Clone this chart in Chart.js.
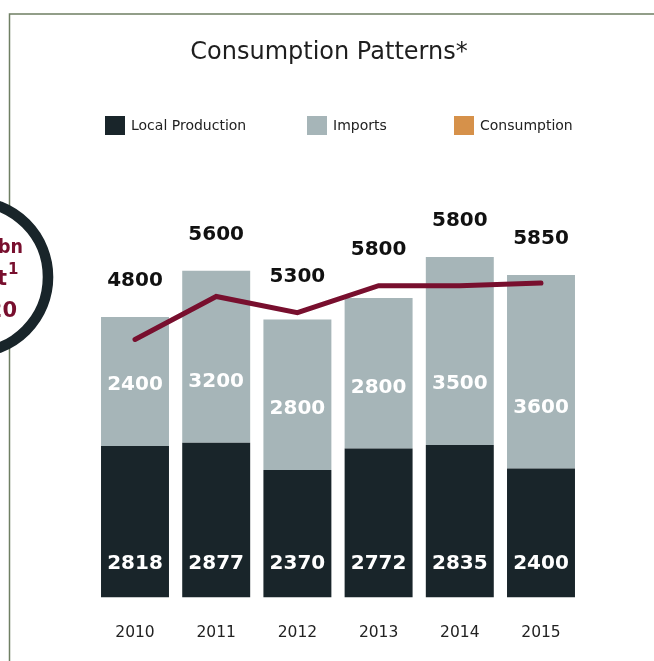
<!DOCTYPE html>
<html>
<head>
<meta charset="utf-8">
<title>Consumption Patterns</title>
<script src="https://cdn.jsdelivr.net/npm/chart.js@4.4.1/dist/chart.umd.min.js"></script>
<style>
  html, body { margin: 0; padding: 0; background: #fff; }
  #wrap { width: 654px; height: 661px; }
</style>
</head>
<body>
<div id="wrap"><canvas id="consumptionChart" width="654" height="661"></canvas></div>
<script>
const years = ["2010", "2011", "2012", "2013", "2014", "2015"];
const localProduction = [2818, 2877, 2370, 2772, 2835, 2400];
const imports = [2400, 3200, 2800, 2800, 3500, 3600];
const consumption = [4800, 5600, 5300, 5800, 5800, 5850];
const seriesNames = ["Local Production", "Imports", "Consumption"];

const darkColor = "#19252a";
const greyColor = "#a6b5b8";
const lineColor = "#780f2e";
const legendColors = [darkColor, greyColor, "#d6914a"];
const fontFamily = "'DejaVu Sans', Verdana, sans-serif";

// thin frame + the cut-off badge on the left edge
const frameDecor = {
    id: "frameDecor",
    beforeDraw(chart) {
        const ctx = chart.ctx;
        ctx.save();
        ctx.strokeStyle = "#6f7f63";
        ctx.lineWidth = 1.5;
        ctx.beginPath();
        ctx.moveTo(9.5, chart.height);
        ctx.lineTo(9.5, 14);
        ctx.lineTo(chart.width, 14);
        ctx.stroke();

        ctx.beginPath();
        ctx.arc(-27.5, 277, 75.5, 0, Math.PI * 2);
        ctx.fillStyle = "#fff";
        ctx.fill();
        ctx.lineWidth = 10.6;
        ctx.strokeStyle = darkColor;
        ctx.stroke();

        ctx.fillStyle = lineColor;
        ctx.font = "bold 20px " + fontFamily;
        ctx.textAlign = "left";
        ctx.textBaseline = "alphabetic";
        ctx.fillText("bn", -2, 253, 25);
        ctx.font = "bold 21px " + fontFamily;
        ctx.textAlign = "right";
        ctx.fillText("t", 7, 285);
        ctx.fillText("20", 17, 317);
        ctx.font = "bold 15px " + fontFamily;
        ctx.textAlign = "left";
        ctx.fillText("1", 8, 274);
        ctx.restore();
    }
};

// legend row under the title
const legendRow = {
    id: "legendRow",
    afterDraw(chart) {
        const ctx = chart.ctx;
        const boxX = [105, 307, 454];
        ctx.save();
        ctx.font = "14px " + fontFamily;
        ctx.textBaseline = "middle";
        ctx.textAlign = "left";
        seriesNames.forEach((name, i) => {
            ctx.fillStyle = legendColors[i];
            ctx.fillRect(boxX[i], 116, 20, 19);
            ctx.fillStyle = "#222";
            ctx.fillText(name, boxX[i] + 26, 126);
        });
        ctx.restore();
    }
};

// numbers inside and above the bars
const valueLabels = {
    id: "valueLabels",
    afterDatasetsDraw(chart) {
        const ctx = chart.ctx;
        const localBars = chart.getDatasetMeta(0).data;
        const importBars = chart.getDatasetMeta(1).data;
        const linePts = chart.getDatasetMeta(2).data;
        ctx.save();
        ctx.font = "bold 20px " + fontFamily;
        ctx.textAlign = "center";
        ctx.textBaseline = "middle";
        years.forEach((year, i) => {
            const lb = localBars[i];
            const ib = importBars[i];
            const lp = linePts[i];
            ctx.fillStyle = "#fff";
            ctx.fillText(localProduction[i], lb.x, lb.base - 33.5);
            ctx.fillText(imports[i], ib.x, lb.y - 61);
            ctx.fillStyle = "#111";
            ctx.fillText(consumption[i], ib.x, Math.min(ib.y, lp.y) - 36);
        });
        ctx.restore();
    }
};

new Chart(document.getElementById("consumptionChart"), {
    type: "bar",
    data: {
        labels: years,
        datasets: [
            {
                label: seriesNames[0],
                data: localProduction,
                backgroundColor: darkColor,
                stack: "supply",
                order: 1,
                barPercentage: 0.837,
                categoryPercentage: 1
            },
            {
                label: seriesNames[1],
                data: imports,
                backgroundColor: greyColor,
                stack: "supply",
                order: 1,
                barPercentage: 0.837,
                categoryPercentage: 1
            },
            {
                type: "line",
                label: seriesNames[2],
                data: consumption,
                borderColor: lineColor,
                borderWidth: 5,
                borderCapStyle: "round",
                pointRadius: 0,
                tension: 0,
                stack: "demand",
                order: 0
            }
        ]
    },
    options: {
        responsive: false,
        animation: false,
        layout: { padding: { left: 76.4, right: 72.4, top: 0, bottom: 0 } },
        scales: {
            x: {
                stacked: true,
                grid: { display: false, drawTicks: false },
                border: { display: false },
                ticks: { color: "#222", font: { family: fontFamily, size: 15.5 }, padding: 26.5 },
                afterFit(scale) { scale.height = 63.5; }
            },
            y: {
                stacked: true,
                min: 0,
                max: 8000,
                grid: { display: false, drawTicks: false },
                border: { display: false },
                ticks: { display: false },
                afterFit(scale) { scale.width = 18; }
            }
        },
        plugins: {
            legend: { display: false },
            tooltip: { enabled: false },
            title: {
                display: true,
                text: "Consumption Patterns*",
                color: "#1e1e1e",
                font: { family: fontFamily, size: 24, weight: "normal" },
                padding: { top: 38.6, bottom: 100.1 }
            }
        }
    },
    plugins: [frameDecor, legendRow, valueLabels]
});
</script>
</body>
</html>
